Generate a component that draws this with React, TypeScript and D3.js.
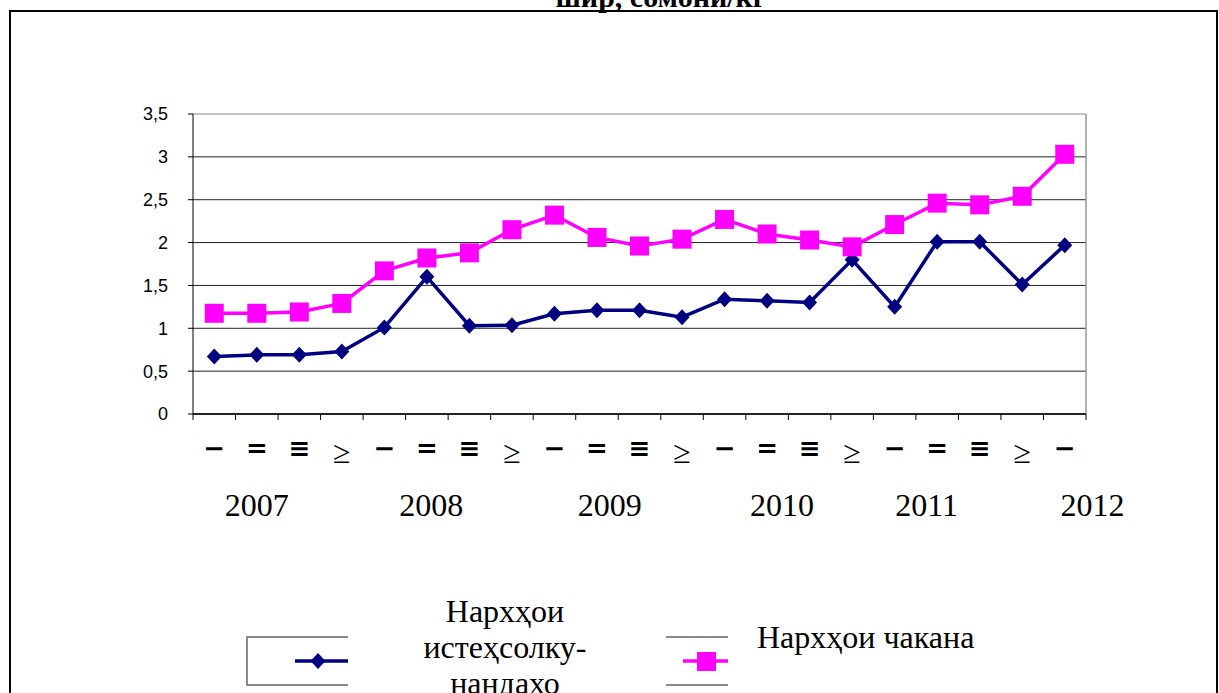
import React from "react";
import * as d3 from "d3";

const W = 1219;
const H = 693;

// quarter labels (Roman numerals rendered in the source with symbol glyphs)
const quarterLabels = [
  "−", "=", "≡", "≥",
  "−", "=", "≡", "≥",
  "−", "=", "≡", "≥",
  "−", "=", "≡", "≥",
  "−", "=", "≡", "≥",
  "−",
];
const producerPrices = [
  0.67, 0.69, 0.69, 0.73, 1.01, 1.6, 1.03, 1.035, 1.17, 1.21, 1.21,
  1.13, 1.34, 1.32, 1.3, 1.8, 1.25, 2.01, 2.01, 1.51, 1.97,
];
const retailPrices = [
  1.175, 1.175, 1.19, 1.29, 1.67, 1.82, 1.88, 2.15, 2.32, 2.06, 1.96,
  2.04, 2.27, 2.1, 2.03, 1.95, 2.21, 2.46, 2.44, 2.54, 3.03,
];
const yearLabels = ["2007", "2008", "2009", "2010", "2011", "2012"];
// category index the year label sits under (fractional)
const yearAnchors = [1, 5.1, 9.3, 13.35, 16.75, 20.65];
const yTicks = [0, 0.5, 1, 1.5, 2, 2.5, 3, 3.5];

const titleText = "шир, сомонӣ/кг";
const legendProducer = ["Нархҳои", "истеҳсолку-", "нандахо"];
const legendRetail = "Нархҳои чакана";

const NAVY = "#000080";
const PINK = "#FF00FF";

const PLOT = { left: 193, right: 1086, top: 114, bottom: 414 };

export default function App() {
  const idx = d3.range(quarterLabels.length);
  const x = d3
    .scaleBand<number>()
    .domain(idx)
    .range([PLOT.left, PLOT.right])
    .padding(0);
  const y = d3.scaleLinear().domain([0, 3.5]).range([PLOT.bottom, PLOT.top]);
  const cx = (i: number) => (x(i) ?? 0) + x.bandwidth() / 2;
  const fmt = (v: number) => d3.format("~g")(v).replace(".", ",");

  const line = d3
    .line<number>()
    .x((_, i) => cx(i))
    .y((d) => y(d));

  const xAt = (f: number) => PLOT.left + x.step() * (f + 0.5);

  return (
    <svg
      width={W}
      height={H}
      style={{ position: "absolute", left: 0, top: 0, background: "#fff" }}
    >
      {/* outer frame */}
      <rect x={10} y={11} width={1207} height={700} fill="none" stroke="#000" strokeWidth={2} />
      <text
        x={661}
        y={7}
        textAnchor="middle"
        fontFamily="Liberation Serif, serif"
        fontWeight="bold"
        fontSize={30}
      >
        {titleText}
      </text>

      {/* gridlines */}
      {yTicks.map((t) => (
        <line
          key={t}
          x1={PLOT.left}
          x2={PLOT.right}
          y1={y(t)}
          y2={y(t)}
          stroke={t === 3.5 ? "#888" : "#222"}
          strokeWidth={1}
        />
      ))}
      <line x1={PLOT.right} x2={PLOT.right} y1={PLOT.top} y2={PLOT.bottom} stroke="#999" strokeWidth={1.5} />
      {/* y axis */}
      <line x1={PLOT.left} x2={PLOT.left} y1={PLOT.top} y2={PLOT.bottom} stroke="#000" />
      {yTicks.map((t) => (
        <g key={"yt" + t}>
          <line x1={PLOT.left - 5} x2={PLOT.left} y1={y(t)} y2={y(t)} stroke="#000" />
          <text
            x={168}
            y={y(t)}
            dy="0.36em"
            textAnchor="end"
            fontFamily="Liberation Sans, Arial, sans-serif"
            fontSize={18}
          >
            {fmt(t)}
          </text>
        </g>
      ))}
      {/* x axis */}
      <line x1={PLOT.left} x2={PLOT.right} y1={PLOT.bottom} y2={PLOT.bottom} stroke="#000" strokeWidth={1.5} />
      {d3.range(quarterLabels.length + 1).map((i) => (
        <line
          key={"xt" + i}
          x1={PLOT.left + x.step() * i}
          x2={PLOT.left + x.step() * i}
          y1={PLOT.bottom}
          y2={PLOT.bottom + 6}
          stroke="#000"
        />
      ))}
      {quarterLabels.map((q, i) => (
        <text
          key={"q" + i}
          x={cx(i)}
          y={q === "≥" ? 463 : 457}
          textAnchor="middle"
          fontFamily={q === "≥" ? "Liberation Serif, serif" : "DejaVu Sans, sans-serif"}
          fontWeight={q === "≥" ? "normal" : "bold"}
          fontSize={q === "≥" ? 32 : 26}
        >
          {q}
        </text>
      ))}
      {yearLabels.map((yr, i) => (
        <text
          key={yr}
          x={xAt(yearAnchors[i])}
          y={516}
          textAnchor="middle"
          fontFamily="Liberation Serif, serif"
          fontSize={32}
        >
          {yr}
        </text>
      ))}

      {/* series */}
      <path d={line(producerPrices) ?? ""} fill="none" stroke={NAVY} strokeWidth={3.5} />
      {producerPrices.map((v, i) => (
        <path
          key={"p" + i}
          d="M0,-8L7.5,0L0,8L-7.5,0Z"
          transform={`translate(${cx(i)},${y(v)})`}
          fill={NAVY}
        />
      ))}
      <path d={line(retailPrices) ?? ""} fill="none" stroke={PINK} strokeWidth={3.5} />
      {retailPrices.map((v, i) => (
        <rect key={"r" + i} x={cx(i) - 9.5} y={y(v) - 9.5} width={19} height={19} fill={PINK} />
      ))}

      {/* legend */}
      <path d="M348,637H247V685H348" fill="none" stroke="#666" strokeWidth={1.5} />
      <line x1={295} x2={348} y1={661} y2={661} stroke={NAVY} strokeWidth={3.5} />
      <path d="M0,-8L7.5,0L0,8L-7.5,0Z" transform="translate(318,661)" fill={NAVY} />
      {legendProducer.map((t, i) => (
        <text
          key={t}
          x={505}
          y={622 + i * 36}
          textAnchor="middle"
          fontFamily="Liberation Serif, serif"
          fontSize={32}
        >
          {t}
        </text>
      ))}
      <line x1={666} x2={728} y1={637} y2={637} stroke="#666" strokeWidth={1.5} />
      <line x1={666} x2={728} y1={685} y2={685} stroke="#666" strokeWidth={1.5} />
      <line x1={683} x2={728} y1={661} y2={661} stroke={PINK} strokeWidth={3.5} />
      <rect x={697} y={652} width={19} height={19} fill={PINK} />
      <text x={757} y={648} fontFamily="Liberation Serif, serif" fontSize={32}>
        {legendRetail}
      </text>
    </svg>
  );
}
